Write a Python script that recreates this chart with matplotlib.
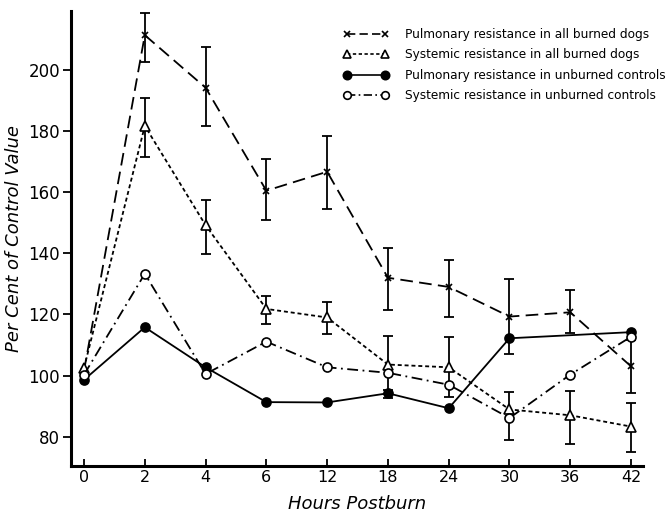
import numpy as np
import matplotlib
matplotlib.use("Agg")
import matplotlib.pyplot as plt
from matplotlib.lines import Line2D

hours = ["0", "2", "4", "6", "12", "18", "24", "30", "36", "42"]

# pulmonary resistance, all burned dogs
pulm_burn = [101.6, 211.4, 194.2, 160.5, 166.7, 132.0, 129.0, 119.3, 120.7, 103.0]
pulm_burn_hi = [np.nan, 218.8, 207.4, 170.9, 178.4, 141.6, 137.7, 131.5, 128.0, 111.7]
pulm_burn_lo = [np.nan, 202.5, 181.7, 151.0, 154.6, 121.6, 119.3, 107.1, 114.0, 94.3]

# systemic resistance, all burned dogs
syst_burn = [102.5, 181.7, 149.2, 121.8, 119.0, 103.6, 102.7, 88.9, 87.0, 83.3]
syst_burn_hi = [np.nan, 190.9, 157.4, 126.1, 124.0, 113.0, 112.6, 94.5, 95.1, 91.0]
syst_burn_lo = [np.nan, 171.5, 139.8, 116.9, 113.7, 94.0, 93.0, 79.0, 77.7, 75.0]

# pulmonary resistance, unburned controls (no point at 36 h)
pulm_ctrl = [98.6, 115.8, 102.7, 91.3, 91.2, 94.2, 89.3, 112.2, np.nan, 114.2]
pulm_ctrl_hi = [np.nan, np.nan, np.nan, np.nan, np.nan, 95.3, np.nan, np.nan, np.nan, np.nan]
pulm_ctrl_lo = [np.nan, np.nan, np.nan, np.nan, np.nan, 92.6, np.nan, np.nan, np.nan, np.nan]

# systemic resistance, unburned controls
syst_ctrl = [100.3, 133.3, 100.5, 111.1, 102.7, 100.9, 97.0, 86.1, 100.3, 112.7]

fig = plt.figure(figsize=(6.7, 5.14), dpi=100)
ax = fig.add_axes([0.106, 0.0934, 0.854, 0.8852])

x = np.arange(len(hours))


def draw(vals, hi, lo, ls, marker, mfc, ms, dashes=None):
    v = np.array(vals, dtype=float)
    ok = ~np.isnan(v)
    kw = dict(color="black", lw=1.3, marker=marker, mfc=mfc, mec="black",
              ms=ms, mew=1.2, zorder=3)
    if dashes is not None:
        kw["dashes"] = dashes
    else:
        kw["ls"] = ls
    ax.plot(x[ok], v[ok], **kw)
    if hi is not None:
        h = np.array(hi, dtype=float)
        l = np.array(lo, dtype=float)
        e = ~np.isnan(h)
        ax.errorbar(x[e], v[e], yerr=[v[e] - l[e], h[e] - v[e]], fmt="none",
                    ecolor="black", elinewidth=1.3, capsize=3.5, capthick=1.3,
                    zorder=2)


draw(pulm_burn, pulm_burn_hi, pulm_burn_lo, None, "x", "black", 5, dashes=(7, 3.5))
draw(syst_burn, syst_burn_hi, syst_burn_lo, None, "^", "white", 7, dashes=(2.2, 1.6))
draw(pulm_ctrl, pulm_ctrl_hi, pulm_ctrl_lo, "-", "o", "black", 6.5)
draw(syst_ctrl, None, None, None, "o", "white", 6.5, dashes=(6, 2.5, 1, 2.5))

ax.set_xlim(-0.214, 9.2)
ax.set_ylim(70.4, 219.3)
ax.set_xticks(x)
ax.set_xticklabels(hours)
ax.set_yticks([80, 100, 120, 140, 160, 180, 200])

for side in ["top", "right"]:
    ax.spines[side].set_visible(False)
for side in ["left", "bottom"]:
    ax.spines[side].set_linewidth(2.2)

ax.tick_params(axis="x", direction="in", length=5, width=1.3, labelsize=11.5, pad=3)
ax.tick_params(axis="y", direction="out", length=6, width=1.3, labelsize=12, pad=2)

ax.set_xlabel("Hours Postburn", fontsize=13, style="italic", labelpad=7)
ax.set_ylabel("Per Cent of Control Value", fontsize=13, style="italic", labelpad=4)

handles = [
    Line2D([], [], color="black", lw=1.2, dashes=(5, 2.5), marker="x", ms=5, mew=1.2),
    Line2D([], [], color="black", lw=1.2, dashes=(2, 1.5), marker="^", mfc="white", ms=6, mew=1.2),
    Line2D([], [], color="black", lw=1.2, ls="-", marker="o", mfc="black", ms=6, mew=1.2),
    Line2D([], [], color="black", lw=1.2, dashes=(5, 2, 1, 2), marker="o", mfc="white", ms=5.5, mew=1.2),
]
labels = [
    "Pulmonary resistance in all burned dogs",
    "Systemic resistance in all burned dogs",
    "Pulmonary resistance in unburned controls",
    "Systemic resistance in unburned controls",
]
fig.legend(handles, labels, loc="upper left", bbox_to_anchor=(0.505, 0.955),
           frameon=False, numpoints=2, handlelength=3.8, fontsize=8.7,
           labelspacing=0.62, handletextpad=1.3, borderaxespad=0)

fig.savefig("out.png", dpi=100)
